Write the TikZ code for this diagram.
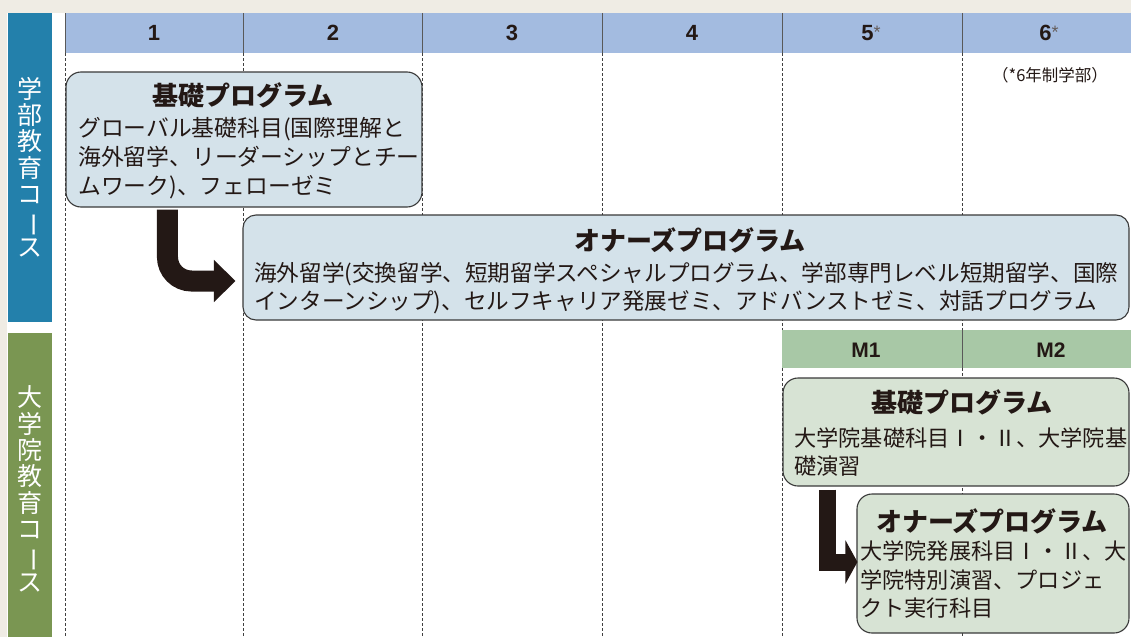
\documentclass[tikz,border=0pt]{standalone}
\usepackage{fontspec}
\setmainfont{Liberation Sans}
\newfontfamily\jp{Noto Sans CJK JP}
\usetikzlibrary{arrows.meta,calc}
\definecolor{bgbeige}{HTML}{EFECE4}
\definecolor{sideblue}{HTML}{2380AB}
\definecolor{sidegreen}{HTML}{7A9652}
\definecolor{hdrblue}{HTML}{A3BBE0}
\definecolor{hdrgreen}{HTML}{A8C8A6}
\definecolor{fillU}{HTML}{D4E2EA}
\definecolor{fillG}{HTML}{D7E3D4}
\definecolor{ink}{HTML}{231815}
\definecolor{frame}{HTML}{3A3A3A}
\newcommand\vchoon{\rotatebox[origin=c]{-90}{ー}}
\newcommand\hdrstar{{\mdseries\color{ink!70}\fontsize{18}{18}\selectfont\raisebox{2pt}{*}}}
\tikzset{
  sidetext/.style={text=white, align=center, inner sep=0pt, font=\jp\fontsize{25}{26.4}\selectfont},
  hdrnum/.style={text=ink, inner sep=0pt, font=\bfseries\fontsize{22}{22}\selectfont},
  colline/.style={draw=black!75, line width=0.8pt, dash pattern=on 3pt off 2pt},
  hdrline/.style={draw=black!65, line width=1pt},
  progbox/.style={draw=frame, line width=1.1pt, rounded corners=15pt, inner sep=0pt},
  boxU/.style={progbox, fill=fillU},
  boxG/.style={progbox, fill=fillG},
  titletext/.style={text=ink, inner sep=0pt, font=\jp\bfseries\fontsize{26}{30}\selectfont},
  bodytext/.style={text=ink, inner sep=0pt, align=left, anchor=base west},
  bigarrow/.style={draw=ink, line cap=butt},
}
\begin{document}
\begin{tikzpicture}[x=1pt,y=-1pt]
\useasboundingbox (0,0) rectangle (1131,637);
\fill[bgbeige] (0,0) rectangle (1131,637);
\fill[white] (7,13) rectangle (1131,637);
% side bars
\fill[sideblue] (8,13) rectangle (52,322);
\fill[sidegreen] (8,333) rectangle (52,637);
\node[sidetext] (sideU) at (30,167) {学\\部\\教\\育\\コ\\\vchoon\\ス};
\node[sidetext] (sideG) at (30,489) {大\\学\\院\\教\\育\\コ\\\vchoon\\ス};
% header
\fill[hdrblue] (65,13) rectangle (1131,53);
\foreach \x in {65,243,422,602,782,962} {
  \draw[hdrline] (\x,13) -- (\x,53);
  \draw[colline] (\x,53) -- (\x,637);
}
\node[hdrnum] (y1) at (154,33) {1};
\node[hdrnum] (y2) at (333,33) {2};
\node[hdrnum] (y3) at (512,33) {3};
\node[hdrnum] (y4) at (692,33) {4};
\node[hdrnum] (y5) at (871,33) {5\hdrstar};
\node[hdrnum] (y6) at (1049,33) {6\hdrstar};
\node[text=ink, inner sep=0pt, font=\jp\fontsize{16.5}{18}\selectfont] (note6) at (1050,75) {（*6年制学部）};
% master header
\fill[hdrgreen] (782,330) rectangle (1131,368);
\draw[hdrline] (962,330) -- (962,368);
\node[hdrnum, font=\bfseries\fontsize{21}{21}\selectfont] (m1) at (866,350) {M1};
\node[hdrnum, font=\bfseries\fontsize{21}{21}\selectfont] (m2) at (1051,350) {M2};
% undergraduate boxes
\node[boxU, minimum width=356pt, minimum height=135pt] (kisoU) at (244,139.5) {};
\node[boxU, rounded corners=13pt, minimum width=886pt, minimum height=105pt] (honorsU) at (686,267.5) {};
\node[titletext] (kisoUt) at (243,95) {基礎プログラム};
\node[bodytext, font=\jp\fontsize{22.8}{29}\selectfont] (kisoUb) at (78,194.5)
  {グローバル基礎科目(国際理解と\\海外留学、リーダーシップとチー\\ムワーク)、フェローゼミ};
\node[titletext] (honorsUt) at (690,240) {オナーズプログラム};
\node[bodytext, font=\jp\fontsize{22.6}{28}\selectfont] (honorsUb) at (254,309.5)
  {海外留学(交換留学、短期留学スペシャルプログラム、学部専門レベル短期留学、国際\\インターンシップ)、セルフキャリア発展ゼミ、アドバンストゼミ、対話プログラム};
% graduate boxes
\node[boxG, minimum width=346pt, minimum height=108pt] (kisoG) at (956,432) {};
\node[boxG, minimum width=272pt, minimum height=139pt] (honorsG) at (993,563.5) {};
\node[titletext] (kisoGt) at (962,402) {基礎プログラム};
\node[bodytext, font=\jp\fontsize{22.2}{28}\selectfont] (kisoGb) at (794,474.5)
  {大学院基礎科目Ⅰ・Ⅱ、大学院基\\礎演習};
\node[titletext] (honorsGt) at (992,521) {オナーズプログラム};
\node[bodytext, font=\jp\fontsize{22.2}{28.5}\selectfont] (honorsGb) at (860,616.7)
  {大学院発展科目Ⅰ・Ⅱ、大\\学院特別演習、プロジェ\\クト実行科目};
% arrows
\draw[bigarrow, line width=21pt, rounded corners=24pt, -{Triangle[length=21.5pt,width=41pt]}]
  ([xshift=102pt,yshift=-2pt]kisoU.south west) |- ([xshift=-7pt,yshift=-13.5pt]honorsU.west);
\draw[bigarrow, line width=17pt, -{Triangle[length=12pt,width=43pt]}]
  ([xshift=45.5pt,yshift=-3pt]kisoG.south west) |- ([xshift=1pt,yshift=1.5pt]honorsG.west);
\end{tikzpicture}
\end{document}
